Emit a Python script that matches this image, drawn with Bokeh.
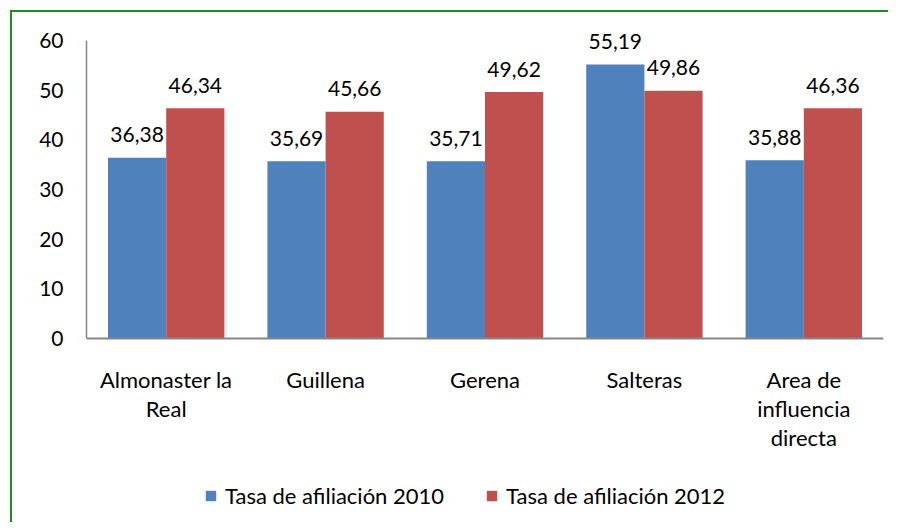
from bokeh.plotting import figure
from bokeh.models import (ColumnDataSource, FactorRange, Range1d, Legend,
                          LegendItem, FixedTicker, Span)
from bokeh.core.properties import value
from bokeh.transform import dodge
from bokeh.embed import file_html
from bokeh.resources import INLINE

categories = ["Almonaster la Real", "Guillena", "Gerena", "Salteras",
              "Area de influencia directa"]
category_lines = [["Almonaster la", "Real"], ["Guillena"], ["Gerena"], ["Salteras"],
                  ["Area de", "influencia", "directa"]]
tasa_2010 = [36.38, 35.69, 35.71, 55.19, 35.88]
tasa_2012 = [46.34, 45.66, 49.62, 49.86, 46.36]
series_names = ["Tasa de afiliación 2010", "Tasa de afiliación 2012"]
y_ticks = [0, 10, 20, 30, 40, 50, 60]

FONT = "Lato"
FS_NUM = "21px"
FS_TXT = "22px"
BLUE = "#4F81BD"
RED = "#C0504D"
AXIS = "#868686"

def fmt(v):
    return f"{v:.2f}".replace(".", ",")

src = ColumnDataSource(dict(
    cat=categories,
    v2010=tasa_2010,
    v2012=tasa_2012,
    l2010=[fmt(v) for v in tasa_2010],
    l2012=[fmt(v) for v in tasa_2012],
))

# category label lines
lx, lt, lo = [], [], []
for c, lines in zip(categories, category_lines):
    for i, t in enumerate(lines):
        lx.append(c)
        lt.append(t)
        lo.append(41 + 29 * i)
lab_src = ColumnDataSource(dict(x=lx, text=lt, yoff=lo, y=[0] * len(lx)))

W, H = 878, 512
p = figure(width=W, height=H, x_range=FactorRange(factors=categories),
           y_range=Range1d(-37.45, 65.64), output_backend="svg", toolbar_location=None,
           min_border_left=74, min_border_right=7, min_border_top=0,
           min_border_bottom=0)
p.styles = {"border-top": "2px solid #1E8C1E", "border-left": "2px solid #1E8C1E",
            "margin-top": "10px", "margin-left": "10px"}

r1 = p.vbar(x=dodge("cat", -0.1825, range=p.x_range), top="v2010", width=0.365,
            source=src, fill_color=BLUE, line_color=None)
r2 = p.vbar(x=dodge("cat", 0.1825, range=p.x_range), top="v2012", width=0.365,
            source=src, fill_color=RED, line_color=None)

for col, lab, off in (("v2010", "l2010", -0.1825), ("v2012", "l2012", 0.1825)):
    p.text(x=dodge("cat", off, range=p.x_range), y=col, text=lab, source=src,
           text_align="center", text_baseline="alphabetic", y_offset=-23,
           text_font=value(FONT), text_font_size=value(FS_NUM), text_color="#000000")

p.text(x="x", y="y", text="text", y_offset="yoff", source=lab_src,
       text_align="center", text_baseline="middle",
       text_font=value(FONT), text_font_size=value(FS_TXT), text_color="#000000")

p.add_layout(Span(location=0, dimension="width", line_color=AXIS, line_width=2))

p.xgrid.grid_line_color = None
p.ygrid.grid_line_color = None
p.outline_line_color = None
p.xaxis.visible = False

p.yaxis.ticker = FixedTicker(ticks=y_ticks)
p.yaxis.bounds = (0, 60)
p.yaxis.major_tick_line_color = None
p.yaxis.minor_tick_line_color = None
p.yaxis.major_tick_out = 0
p.yaxis.major_label_standoff = 23
p.yaxis.axis_line_color = AXIS
p.yaxis.axis_line_width = 1.5
p.yaxis.major_label_text_font = FONT
p.yaxis.major_label_text_font_size = FS_NUM
p.yaxis.major_label_text_color = "#000000"

legend = Legend(items=[LegendItem(label=series_names[0], renderers=[r1]),
                       LegendItem(label=series_names[1], renderers=[r2])],
                orientation="horizontal", location=(118, 15),
                glyph_width=13, glyph_height=13, label_standoff=8, spacing=41,
                padding=0, margin=0, border_line_color=None,
                background_fill_alpha=0,
                label_text_font=FONT, label_text_font_size=FS_TXT,
                label_text_color="#000000", label_height=20)
p.add_layout(legend, "center")

open("out.html", "w").write(file_html(p, INLINE))
